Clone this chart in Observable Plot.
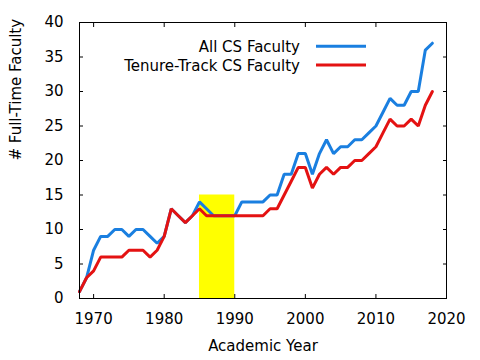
<!DOCTYPE html>
<html>
<head>
<meta charset="utf-8">
<script src="https://cdn.jsdelivr.net/npm/d3@7"></script>
<script src="https://cdn.jsdelivr.net/npm/@observablehq/plot@0.6"></script>
<style>
  html, body { margin: 0; padding: 0; background: #fff; }
  #chart { width: 480px; height: 360px; }
</style>
</head>
<body>
<div id="chart"></div>
<script>
// ---- data ----
const years = d3.range(1968, 2019);
const allCS = [1,3,7,9,9,10,10,9,10,10,9,8,
               9,13,12,11,12,14,13,12,12,12,
               12,14,14,14,14,15,15,18,18,21,
               21,18,21,23,21,22,22,23,23,24,
               25,27,29,28,28,30,30,36,37];
const tenureTrack = [1,3,4,6,6,6,6,7,7,7,6,7,
                     9,13,12,11,12,13,12,12,12,12,
                     12,12,12,12,12,13,13,15,17,19,
                     19,16,18,19,18,19,19,20,20,21,
                     22,24,26,25,25,26,25,28,30];
const seriesNames = ["All CS Faculty", "Tenure-Track CS Faculty"];
const seriesColors = ["#1a7fe0", "#e41212"];
const highlightStart = [1985];
const highlightEnd = [1990];
const highlightTop = [15];
const xTicks = [1970, 1980, 1990, 2000, 2010, 2020];
const yTicks = [0, 5, 10, 15, 20, 25, 30, 35, 40];
const xLabel = "Academic Year";
const yLabel = "# Full-Time Faculty";

const rowsAll = years.map((y, i) => ({year: y, v: allCS[i]}));
const rowsTT = years.map((y, i) => ({year: y, v: tenureTrack[i]}));
const rect = highlightStart.map((s, i) => ({x1: s, x2: highlightEnd[i], y2: highlightTop[i]}));

const FONT = "DejaVu Sans, sans-serif";
const FS = 15;

const chart = Plot.plot({
  width: 480,
  height: 360,
  marginLeft: 79,
  marginRight: 34,
  marginTop: 22,
  marginBottom: 62,
  style: {fontFamily: FONT, fontSize: FS + "px", color: "#000", background: "#fff"},
  x: {domain: [1968, 2020]},
  y: {domain: [0, 40]},
  marks: [
    Plot.rectY(rect, {x1: "x1", x2: "x2", y1: 0, y2: "y2", fill: "#ffff00"}),
    Plot.line(rowsAll, {x: "year", y: "v", stroke: seriesColors[0], strokeWidth: 3, strokeLinejoin: "miter"}),
    Plot.line(rowsTT, {x: "year", y: "v", stroke: seriesColors[1], strokeWidth: 3, strokeLinejoin: "miter"}),
    Plot.frame({stroke: "#000", strokeWidth: 1}),
    Plot.axisX(xTicks, {anchor: "bottom", tickSize: -4, tickPadding: 18.7, tickFormat: d => String(d), label: null, fontSize: FS}),
    Plot.axisX(xTicks, {anchor: "top", tickSize: -4, text: null, label: null}),
    Plot.axisY(yTicks, {anchor: "left", tickSize: -4, tickPadding: 20, label: null, fontSize: FS}),
    Plot.axisY(yTicks, {anchor: "right", tickSize: -4, text: null, label: null}),
    Plot.text([xLabel], {frameAnchor: "bottom", dy: 48, lineAnchor: "middle", fontSize: FS, fill: "#000"}),
    Plot.text([yLabel], {frameAnchor: "left", dx: -63, rotate: -90, lineAnchor: "middle", fontSize: FS, fill: "#000"})
  ]
});

// legend (inside plot area, top)
const svg = d3.select(chart);
const leg = svg.append("g").attr("font-family", FONT).attr("font-size", FS);
const legY = [51.7, 70.5];
seriesNames.forEach((name, i) => {
  leg.append("text").attr("x", 300).attr("y", legY[i]).attr("text-anchor", "end").attr("fill", "#000").text(name);
  leg.append("line").attr("x1", 316).attr("x2", 366).attr("y1", legY[i] - 5.5).attr("y2", legY[i] - 5.5)
    .attr("stroke", seriesColors[i]).attr("stroke-width", 3);
});

document.getElementById("chart").appendChild(chart);
</script>
</body>
</html>
